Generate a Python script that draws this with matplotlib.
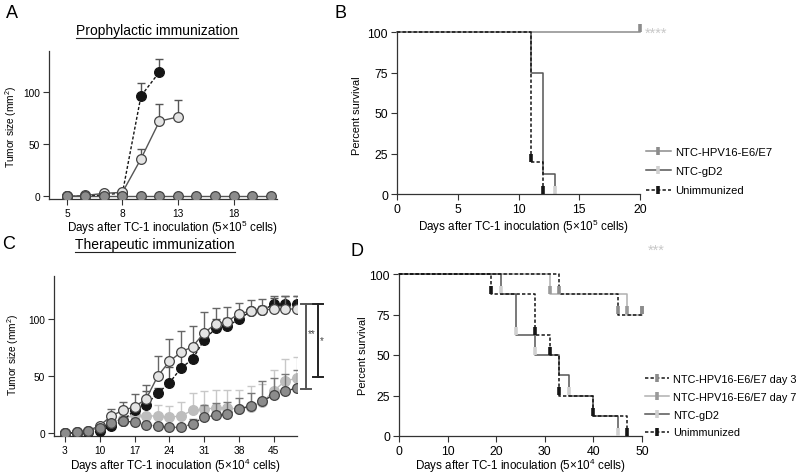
import numpy as np
import matplotlib
matplotlib.use("Agg")
import matplotlib.pyplot as plt
from matplotlib.lines import Line2D

plt.rcParams['font.family'] = ['Liberation Sans', 'DejaVu Sans']
plt.rcParams['mathtext.fontset'] = 'custom'
plt.rcParams['mathtext.rm'] = 'Liberation Sans'
plt.rcParams['mathtext.default'] = 'regular'

# ---- panel A: prophylactic tumor growth (categorical days) ----
a_ticks = [0, 3, 6, 9]
a_ticklabels = ['5', '8', '13', '18']
a_hpv = [0, 0, 0, 0, 0, 0, 0, 0, 0, 0, 0, 0]
a_gd2 = [0, 1, 3, 4, 36, 72, 76]
a_gd2_err = [0, 0, 0, 0, 9, 16, 16]
a_unimm = [0, 0.5, 1.5, 3.5, 96, 119]
a_unimm_err = [0, 0, 0, 0, 12, 12]

# ---- panel B: prophylactic survival ----
b_hpv_t = [0, 20]
b_hpv_s = [100, 100]
b_hpv_mark = [20]
b_gd2_t = [0, 11, 12, 13]
b_gd2_s = [100, 75, 12.5, 0]
b_gd2_mark = [13]
b_unimm_t = [0, 11, 12]
b_unimm_s = [100, 20, 0]
b_unimm_mark = [11, 12]

# ---- panel C: therapeutic tumor growth (21 measurements) ----
c_ticks = [0, 3, 6, 9, 12, 15, 18]
c_ticklabels = ['3', '10', '17', '24', '31', '38', '45']
c_gd2 = [0, 0.5, 2, 6.5, 15, 20, 23, 30, 50, 63, 71, 76, 88, 96, 98, 105, 107, 108, 109, 109, 109]
c_gd2_top = [0, 0.5, 2, 8, 21, 27, 34, 42, 68, 83, 90, 94, 106, 110, 111, 114, 117, 118, 120, 120, 120]
c_unimm = [0, 0, 0.5, 1.5, 6, 11, 20, 25, 35, 44, 57, 65, 82, 92, 94, 100, 107, 108, 113, 113, 113]
c_unimm_top = [0, 0, 0.5, 1.5, 6, 11, 22, 37, 40, 58, 70, 75, 90, 100, 101, 106, 110, 112, 119, 120, 120]
c_d7 = [0, 0.5, 2, 5, 10, 12, 16, 15, 15, 14, 15, 20, 21, 22, 22, 21, 23, 27, 37, 46, 48]
c_d7_top = [0, 0.5, 2, 5, 10, 12, 16, 30, 25, 24, 27, 35, 37, 38, 38, 38, 41, 43, 55, 65, 67]
c_d3 = [0, 0.5, 2, 4, 9, 10.5, 9.5, 7.5, 6, 5, 5, 8, 14, 15.5, 16.5, 21, 24, 28, 33.5, 37, 39.5]
c_d3_top = [0, 0.5, 2, 4, 9, 10.5, 9.5, 7.5, 6, 5, 5, 12, 25, 26, 27, 31, 35, 46, 48, 52, 55]

# ---- panel D: therapeutic survival ----
d_d3_t = [0, 33, 45, 50]
d_d3_s = [100, 87.5, 75, 75]
d_d3_mark = [33, 45, 50]
d_d7_t = [0, 31, 47, 50]
d_d7_s = [100, 87.5, 75, 75]
d_d7_mark = [31, 47, 50]
d_gd2_t = [0, 21, 24, 28, 33, 35, 40, 45]
d_gd2_s = [100, 87.5, 62.5, 50, 37.5, 25, 12.5, 0]
d_gd2_mark = [21, 24, 28, 35, 45]
d_unimm_t = [0, 19, 28, 31, 33, 40, 47]
d_unimm_s = [100, 87.5, 62.5, 50, 25, 12.5, 0]
d_unimm_mark = [19, 28, 31, 33, 40, 47]

BLACK = '#151515'
DARK = '#555555'
MID = '#8c8c8c'
LIGHT = '#bdbdbd'
PALE = '#e4e4e4'
DASH = (2.2, 1.4)
XLAB_FS = 8.4

W, H = 800, 477
fig = plt.figure(figsize=(8, 4.77), dpi=100)


def axes_px(left, right, top, bottom):
    return fig.add_axes([left / W, 1 - bottom / H, (right - left) / W, (bottom - top) / H])


def style(ax, tick_fs):
    for s in ['top', 'right']:
        ax.spines[s].set_visible(False)
    for s in ['left', 'bottom']:
        ax.spines[s].set_color('#333333')
        ax.spines[s].set_linewidth(0.9)
    ax.tick_params(direction='out', length=4, width=0.8, color='#333333', labelsize=tick_fs, pad=2.5)


def labels(ax, xtext, xpos, ytext, ypos, yfs):
    ax.set_xlabel(xtext, fontsize=XLAB_FS)
    ax.set_ylabel(ytext, fontsize=yfs)
    ax.xaxis.set_label_coords(xpos[0] / W, 1 - xpos[1] / H, transform=fig.transFigure)
    ax.yaxis.set_label_coords(ypos[0] / W, 1 - ypos[1] / H, transform=fig.transFigure)
    ax.xaxis.label.set_va('center')
    ax.yaxis.label.set_va('center')


def growth(ax, y, top, ls, lc, fc, ec, ecol, z):
    x = np.arange(len(y))
    err = np.array(top[:len(y)]) - np.array(y)
    ax.errorbar(x, y, yerr=[np.zeros(len(y)), err], fmt='none', ecolor=ecol,
                elinewidth=1.0, capsize=3, capthick=1.0, zorder=z)
    kw = dict(dashes=DASH) if ls == '--' else {}
    ax.plot(x, y, color=lc, lw=1.0, marker='o', ms=7, mfc=fc, mec=ec, mew=0.9,
            zorder=z + 0.5, **kw)


def surv(ax, t, s, marks, lc, mc, dashed, z, label, lw=1.1):
    kw = dict(dashes=DASH) if dashed else {}
    ax.step(t, s, where='post', color=lc, lw=lw, zorder=z, clip_on=False, **kw)
    lookup = dict(zip(t, s))
    my = [lookup.get(m, s[-1]) + 2.5 for m in marks]
    ax.plot(marks, my, ls='none', marker='|', ms=6, mew=2.6, color=mc, zorder=z + 0.2, clip_on=False)
    h = Line2D([], [], color=lc, lw=lw, marker='|', ms=6, mew=2.6, mec=mc, **kw)
    return h, label


def underline_title(text_obj):
    fig.canvas.draw()
    bb = text_obj.get_window_extent()
    y = bb.y0 - 1
    fig.add_artist(Line2D([bb.x0 / W, bb.x1 / W], [y / H, y / H], color='#222222', lw=0.8,
                          transform=fig.transFigure))


xlab5 = 'Days after TC-1 inoculation (5×10$^{5}$ cells)'
xlab4 = 'Days after TC-1 inoculation (5×10$^{4}$ cells)'

# ---------------- A ----------------
axA = axes_px(49, 277, 52, 200)
style(axA, 7.3)
growth(axA, a_unimm, np.array(a_unimm) + np.array(a_unimm_err), '--', BLACK, BLACK, BLACK, DARK, 2)
growth(axA, a_gd2, np.array(a_gd2) + np.array(a_gd2_err), '-', DARK, PALE, '#444444', DARK, 3)
growth(axA, a_hpv, a_hpv, '-', DARK, MID, '#444444', DARK, 4)
axA.set_xlim(-0.97, 11.35)
axA.set_ylim(-2.4, 139)
axA.set_xticks(a_ticks)
axA.set_xticklabels(a_ticklabels)
axA.set_yticks([0, 50, 100])
labels(axA, xlab5, (172, 228), 'Tumor size (mm$^{2}$)', (11, 127), 7.3)

# ---------------- B ----------------
axB = axes_px(397, 640, 33, 195)
style(axB, 8.8)
handles = []
handles.append(surv(axB, b_hpv_t, b_hpv_s, b_hpv_mark, MID, MID, False, 3, 'NTC-HPV16-E6/E7'))
handles.append(surv(axB, b_gd2_t, b_gd2_s, b_gd2_mark, DARK, '#d0d0d0', False, 2, 'NTC-gD2'))
handles.append(surv(axB, b_unimm_t, b_unimm_s, b_unimm_mark, BLACK, BLACK, True, 4, 'Unimmunized'))
axB.set_xlim(0, 20)
axB.set_ylim(0, 100)
axB.set_xticks([0, 5, 10, 15, 20])
axB.set_yticks([0, 25, 50, 75, 100])
labels(axB, xlab5, (523, 227), 'Percent survival', (357, 116), 7.9)
axB.legend([h for h, l in handles], [l for h, l in handles], loc='upper left',
           bbox_to_anchor=(646 / W, 1 - 148 / H), bbox_transform=fig.transFigure,
           frameon=False, fontsize=8.1, handlelength=2.2, handletextpad=0.4, labelspacing=0.82,
           borderaxespad=0, borderpad=0)
fig.text(645 / W, 1 - 34 / H, '****', color='#c8c8c8', fontsize=10.5, va='center', ha='left')

# ---------------- C ----------------
axC = axes_px(54, 297, 277, 437)
style(axC, 7.3)
growth(axC, c_d7, c_d7_top, '-', LIGHT, LIGHT, LIGHT, '#c8c8c8', 1)
growth(axC, c_unimm, c_unimm_top, '--', BLACK, BLACK, BLACK, '#555555', 3)
growth(axC, c_gd2, c_gd2_top, '-', DARK, PALE, '#444444', '#666666', 4)
growth(axC, c_d3, c_d3_top, '--', '#333333', MID, '#444444', '#777777', 5)
axC.set_xlim(-0.94, 20.0)
axC.set_ylim(-2.6, 138)
axC.set_xticks(c_ticks)
axC.set_xticklabels(c_ticklabels)
axC.set_yticks([0, 50, 100])
labels(axC, xlab4, (175, 466), 'Tumor size (mm$^{2}$)', (13, 355), 7.3)
# significance brackets
for bx, y0, y1, col, star, sx, sy in [(20.74, 39, 113, '#555555', '**', 21.25, 88),
                                       (21.78, 49, 113, '#222222', '*', 22.15, 82)]:
    axC.plot([bx, bx], [y0, y1], color=col, lw=1.4, clip_on=False)
    axC.plot([bx - 0.43, bx + 0.43], [y0, y0], color=col, lw=1.4, clip_on=False)
    axC.plot([bx - 0.43, bx + 0.43], [y1, y1], color=col, lw=1.4, clip_on=False)
    axC.text(sx, sy, star, fontsize=7, color='#444444', ha='center', va='center', clip_on=False)

# ---------------- D ----------------
axD = axes_px(399, 642, 275, 437)
style(axD, 8.8)
handles = []
handles.append(surv(axD, d_d3_t, d_d3_s, d_d3_mark, BLACK, MID, True, 4, 'NTC-HPV16-E6/E7 day 3'))
handles.append(surv(axD, d_d7_t, d_d7_s, d_d7_mark, '#b0b0b0', '#9a9a9a', False, 2, 'NTC-HPV16-E6/E7 day 7'))
handles.append(surv(axD, d_gd2_t, d_gd2_s, d_gd2_mark, DARK, '#d0d0d0', False, 2.5, 'NTC-gD2'))
handles.append(surv(axD, d_unimm_t, d_unimm_s, d_unimm_mark, BLACK, BLACK, True, 5, 'Unimmunized'))
axD.set_xlim(0, 50)
axD.set_ylim(0, 100)
axD.set_xticks([0, 10, 20, 30, 40, 50])
axD.set_yticks([0, 25, 50, 75, 100])
labels(axD, xlab4, (520, 466), 'Percent survival', (363, 356), 7.9)
axD.legend([h for h, l in handles], [l for h, l in handles], loc='upper left',
           bbox_to_anchor=(645 / W, 1 - 375 / H), bbox_transform=fig.transFigure,
           frameon=False, fontsize=7.8, handlelength=2.2, handletextpad=0.4, labelspacing=0.72,
           borderaxespad=0, borderpad=0)
fig.text(648 / W, 1 - 251 / H, '***', color='#c8c8c8', fontsize=10.5, va='center', ha='left')

# panel letters and titles
for lx, ly, lab in [(12, 14, 'A'), (340, 14, 'B'), (9, 245, 'C'), (357, 252, 'D')]:
    fig.text(lx / W, 1 - ly / H, lab, fontsize=13, ha='center', va='center')
tA = fig.text(157 / W, 1 - 31 / H, 'Prophylactic immunization', fontsize=10, ha='center', va='center')
tC = fig.text(155 / W, 1 - 245 / H, 'Therapeutic immunization', fontsize=10, ha='center', va='center')
underline_title(tA)
underline_title(tC)

fig.savefig('out.png', dpi=100)
